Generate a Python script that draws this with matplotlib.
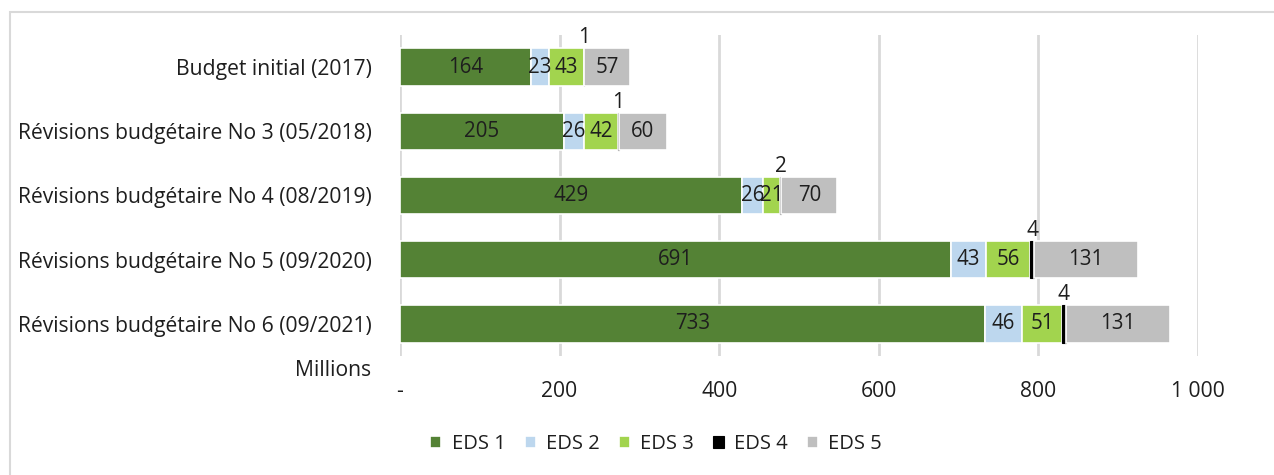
import matplotlib.pyplot as plt
from matplotlib.patches import Rectangle
import numpy as np

plt.rcParams['font.family'] = ['Open Sans', 'DejaVu Sans']

# Donnees (millions)
categories = [
    "Budget initial (2017)",
    "Révisions budgétaire No 3 (05/2018)",
    "Révisions budgétaire No 4 (08/2019)",
    "Révisions budgétaire No 5 (09/2020)",
    "Révisions budgétaire No 6 (09/2021)",
]
series_names = ["EDS 1", "EDS 2", "EDS 3", "EDS 4", "EDS 5"]
eds1 = [164, 205, 429, 691, 733]
eds2 = [23, 26, 26, 43, 46]
eds3 = [43, 42, 21, 56, 51]
eds4 = [1, 1, 2, 4, 4]
eds5 = [57, 60, 70, 131, 131]
colors = ["#548235", "#BDD7EE", "#A2D44E", "#000000", "#BFBFBF"]
x_ticks = [0, 200, 400, 600, 800, 1000]
x_tick_labels = ["-", "200", "400", "600", "800", "1 000"]

FS = 15.2
TXT = '#1e1e1e'

fig = plt.figure(figsize=(12.74, 4.75), dpi=100)
ax = fig.add_axes([400 / 1274, 1 - 356 / 475, 798 / 1274, 321 / 475])

# cadre du graphique
fig.patches.append(Rectangle((10 / 1274, -0.1), 1.2, 1 - 12 / 475 + 0.1,
                             transform=fig.transFigure, fill=False,
                             edgecolor='#d9d9d9', linewidth=1.5))

y = np.arange(len(categories))
left = np.zeros(len(categories))
data = [eds1, eds2, eds3, eds4, eds5]
for name, vals, col in zip(series_names, data, colors):
    vals = np.array(vals, dtype=float)
    ax.barh(y, vals, left=left, height=0.58, color=col,
            edgecolor='white' if name != "EDS 4" else col,
            linewidth=1.2 if name != "EDS 4" else 0.8,
            label=name, zorder=3)
    for yi, l, v in zip(y, left, vals):
        if name == "EDS 4":
            ax.text(l + v / 2, yi - 0.29, f"{v:g}", ha='center', va='bottom',
                    fontsize=15, color=TXT, zorder=4)
        else:
            ax.text(l + v / 2, yi, f"{v:g}", ha='center', va='center',
                    fontsize=14.8, color=TXT, zorder=4)
    left += vals

ax.set_xlim(0, 1000)
ax.set_ylim(4.5, -0.5)
ax.set_yticks(y)
ax.set_yticklabels(categories, fontsize=FS, color=TXT)
ax.set_xticks(x_ticks)
ax.set_xticklabels(x_tick_labels, fontsize=FS, color=TXT)
ax.tick_params(axis='x', length=0, pad=18)
ax.tick_params(axis='y', length=0, pad=20)
ax.xaxis.grid(True, color='#d9d9d9', linewidth=2)
ax.set_axisbelow(True)
for s in ax.spines.values():
    s.set_visible(False)

fig.text(333 / 1274, 1 - 370 / 475, "Millions", ha='center', va='center',
         fontsize=FS, color=TXT)

handles, labels = ax.get_legend_handles_labels()
leg = fig.legend(handles, labels, loc='center', bbox_to_anchor=(656 / 1274, 1 - 444 / 475),
                 ncol=5, frameon=False, fontsize=14.5, handlelength=0.55, handleheight=0.55,
                 handletextpad=0.5, columnspacing=0.95)
for t in leg.get_texts():
    t.set_color(TXT)

fig.savefig("out.png", dpi=100)
